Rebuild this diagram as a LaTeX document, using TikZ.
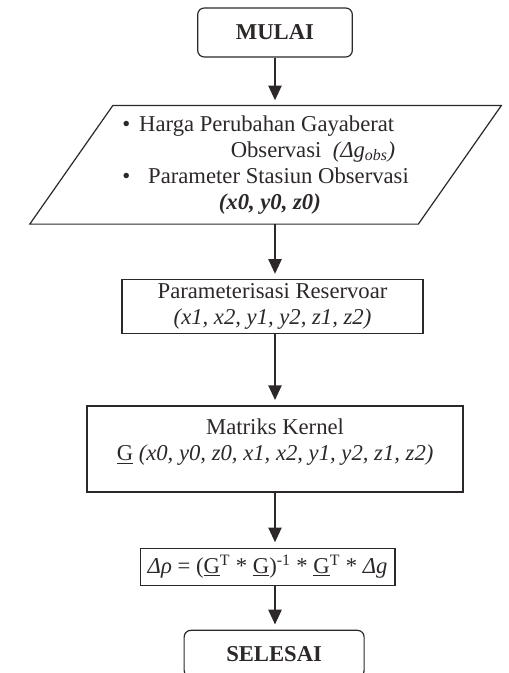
\documentclass[tikz,border=0pt]{standalone}
\usepackage{fontspec}
\setmainfont{Liberation Serif}
\usepackage{xcolor}
\usepackage{tikz}
\usetikzlibrary{arrows.meta,positioning}
\definecolor{ink}{RGB}{45,40,40}

\begin{document}
\begin{tikzpicture}[
  x=0.75pt, y=-0.75pt,
  node distance=41.25pt,
  font=\fontsize{17}{19.5}\selectfont,
  box/.style={draw=ink, text=ink, line width=0.9pt, align=center, inner sep=2pt},
  term/.style={box, rounded corners=5pt, font=\fontsize{17}{19.5}\selectfont\bfseries},
  iobody/.style={text=ink, inner sep=0pt, minimum width=228.75pt, minimum height=88.5pt},
  arr/.style={-{Triangle[length=11pt,width=10pt]}, line width=1pt, draw=ink, shorten >=4pt}
]
\useasboundingbox (0,0) rectangle (508,673);
\node[term, minimum width=116pt, minimum height=36.75pt] (mulai) at (275,32.5) {MULAI};
\node[iobody, below=36pt of mulai, xshift=-7.1pt] (input) {%
  \begin{tabular}{@{}l@{\hspace{6.75pt}}l@{}}
  • & Harga Perubahan Gayaberat\\
    & \makebox[196pt][r]{Observasi~~\textit{(Δg\textsubscript{obs})}\hspace{4pt}}\\
  • & \hspace{6.75pt}Parameter Stasiun Observasi\\
    & \makebox[196pt][c]{\textbf{\textit{(x0, y0, z0)}}}
  \end{tabular}};
% slanted input/output outline
\draw[ink, line width=0.9pt] (input.north west) -- ([xshift=62.25pt]input.north east)
  -- (input.south east) -- ([xshift=-62.25pt]input.south west) -- cycle;
\node[box, below=of input, xshift=5.25pt, minimum width=225.75pt, minimum height=40.5pt] (param) {Parameterisasi Reservoar\\ \textit{(x1, x2, y1, y2, z1, z2)}};
\node[box, below=53.25pt of param, xshift=1.9pt, minimum width=282pt, minimum height=64.5pt] (kernel) {Matriks Kernel\\ \underline{G} \textit{(x0, y0, z0, x1, x2, y1, y2, z1, z2)}\\[-6pt]\mbox{}};
\node[box, below=of kernel, xshift=-5.6pt, minimum width=191pt, minimum height=27.75pt] (rho) {\textit{Δρ} = (\underline{G}\textsuperscript{T} * \underline{G})\textsuperscript{-1} * \underline{G}\textsuperscript{T} * \textit{Δg}};
\node[term, below=33pt of rho, xshift=4.9pt, minimum width=135pt, minimum height=35pt] (selesai) {SELESAI};
\draw[arr] (mulai) -- (mulai |- input.north);
\draw[arr] (mulai |- input.south) -- (mulai |- param.north);
\draw[arr] (mulai |- param.south) -- (mulai |- kernel.north);
\draw[arr] (mulai |- kernel.south) -- (mulai |- rho.north);
\draw[arr] (mulai |- rho.south) -- (mulai |- selesai.north);
\end{tikzpicture}
\end{document}
